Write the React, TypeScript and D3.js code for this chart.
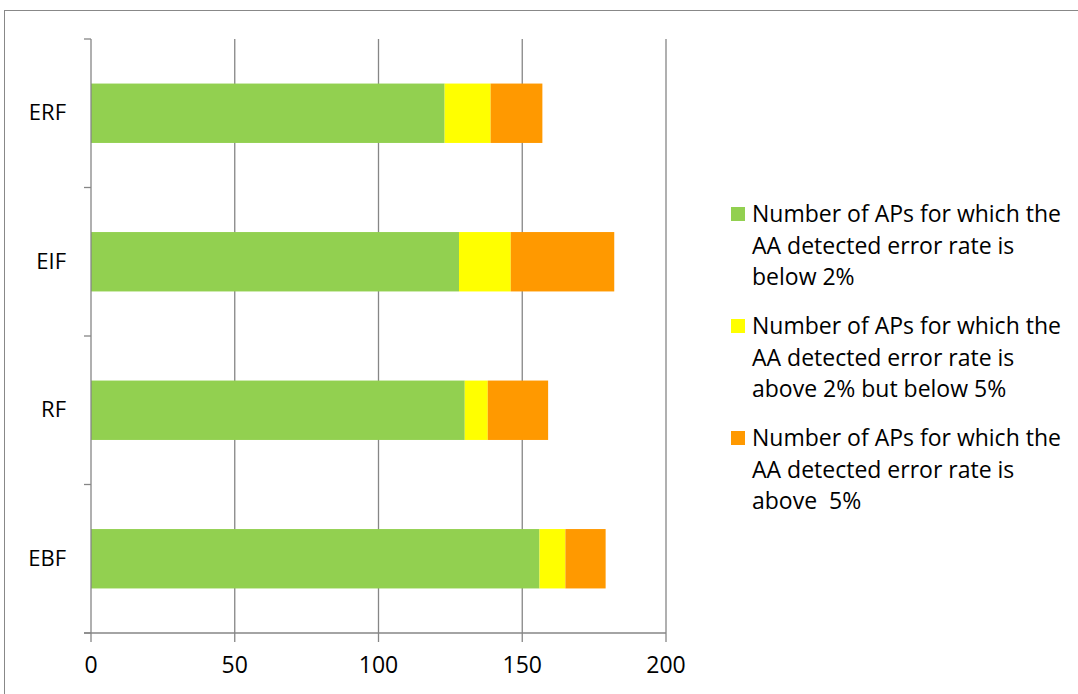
import React from "react";
import * as d3 from "d3";

const categories = ["ERF", "EIF", "RF", "EBF"];
const below2 = [123, 128, 130, 156];
const between2and5 = [16, 18, 8, 9];
const above5 = [18, 36, 21, 14];
const xTicks = [0, 50, 100, 150, 200];
const seriesNames = [
  ["Number of APs for which the", "AA detected error rate is", "below 2%"],
  ["Number of APs for which the", "AA detected error rate is", "above 2% but below 5%"],
  ["Number of APs for which the", "AA detected error rate is", "above  5%"],
];
const colors = ["#92d050", "#ffff00", "#ff9900"];

export default function App() {
  const W = 1078, H = 694;
  const left = 91, right = 666, top = 39, bottom = 633;
  const x = d3.scaleLinear().domain([0, 200]).range([left, right]);
  const y = d3.scaleBand().domain(categories).range([top, bottom]).paddingInner(0.6).paddingOuter(0.3);
  const yb = d3.scaleBand().domain(categories).range([top, bottom]);
  const series = [below2, between2and5, above5];
  const stack = categories.map((c, i) => {
    let acc = 0;
    return series.map((s, k) => {
      const x0 = acc;
      acc += s[i];
      return { c, k, x0, x1: acc };
    });
  });
  const font = "'Open Sans', sans-serif";
  const axisColor = "#868686";
  const bandEdges = categories.map((c) => yb(c)!).concat([bottom]);
  return (
    <svg width={W} height={H} style={{ position: "absolute", left: 0, top: 0 }} fontFamily={font}>
      <rect x={0} y={0} width={W} height={H} fill="#fff" />
      <rect x={4.5} y={10.5} width={W + 20} height={H + 20} fill="none" stroke="#888" strokeWidth={1} />
      {xTicks.slice(1).map((t) => (
        <line key={"g" + t} x1={x(t)} x2={x(t)} y1={top} y2={bottom} stroke={axisColor} strokeWidth={1.3} />
      ))}
      {stack.flat().map((d) => (
        <rect
          key={d.c + d.k}
          x={x(d.x0)}
          y={y(d.c)}
          width={x(d.x1) - x(d.x0)}
          height={y.bandwidth()}
          fill={colors[d.k]}
        />
      ))}
      <line x1={left} x2={left} y1={top} y2={bottom} stroke={axisColor} strokeWidth={1.3} />
      {bandEdges.map((v, i) => (
        <line key={"yt" + i} x1={left - 7} x2={left} y1={v} y2={v} stroke={axisColor} strokeWidth={1.3} />
      ))}
      <line x1={left - 7} x2={right} y1={bottom} y2={bottom} stroke={axisColor} strokeWidth={1.3} />
      {xTicks.map((t) => (
        <line key={"xt" + t} x1={x(t)} x2={x(t)} y1={bottom} y2={bottom + 9} stroke={axisColor} strokeWidth={1.3} />
      ))}
      {xTicks.map((t) => (
        <text key={"xl" + t} x={x(t)} y={673} textAnchor="middle" fontSize={23} fill="#000">
          {t}
        </text>
      ))}
      {categories.map((c) => (
        <text key={"yl" + c} x={66} y={y(c)! + y.bandwidth() / 2 + 7} textAnchor="end" fontSize={22} fill="#000">
          {c}
        </text>
      ))}
      {seriesNames.map((lines, k) => (
        <g key={"lg" + k} transform={`translate(0, ${214 + k * 112})`}>
          <rect x={731} y={-7} width={14} height={14} fill={colors[k]} />
          {lines.map((ln, j) => (
            <text key={j} x={752} y={j * 31.5 + 8} fontSize={23} fill="#000" style={{ whiteSpace: "pre" }}>
              {ln}
            </text>
          ))}
        </g>
      ))}
    </svg>
  );
}
